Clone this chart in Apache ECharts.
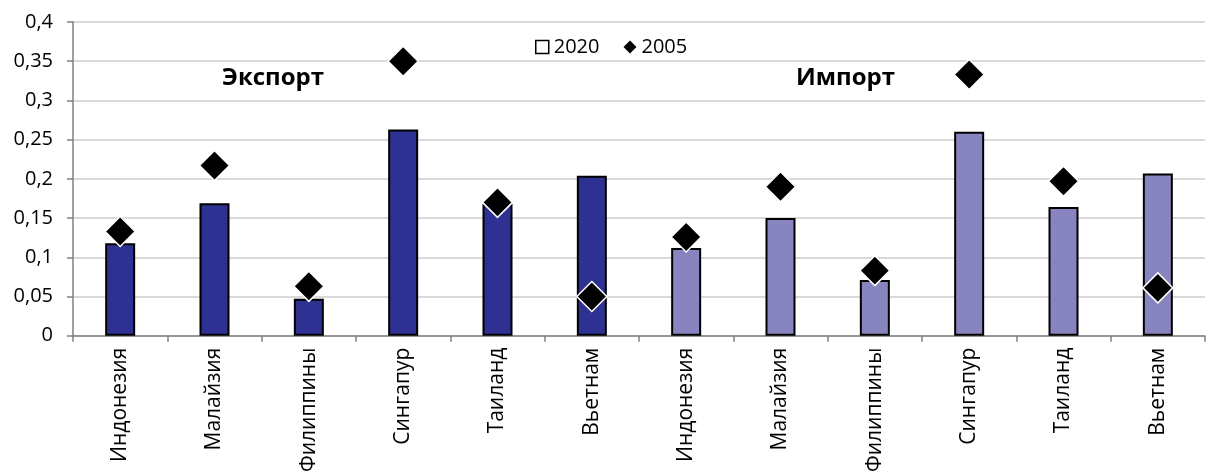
<!DOCTYPE html>
<html><head><meta charset="utf-8">
<script src="https://cdn.jsdelivr.net/npm/echarts@6/dist/echarts.min.js"></script>
<style>html,body{margin:0;padding:0;background:#fff}#c{width:1216px;height:475px}</style>
</head><body><div id="c"></div>
<script>
const categories = ['Индонезия','Малайзия','Филиппины','Сингапур','Таиланд','Вьетнам',
                    'Индонезия','Малайзия','Филиппины','Сингапур','Таиланд','Вьетнам'];
const values2020 = [0.118, 0.169, 0.047, 0.263, 0.168, 0.204, 0.112, 0.150, 0.071, 0.260, 0.164, 0.207];
const values2005 = [0.133, 0.217, 0.063, 0.350, 0.170, 0.050, 0.126, 0.190, 0.083, 0.333, 0.197, 0.061];
const yTicks = { min: 0, max: 0.4, interval: 0.05 };
const groupLabels = ['Экспорт', 'Импорт'];

const FONT = '"Open Sans", "Noto Sans", sans-serif';
const chart = echarts.init(document.getElementById('c'), null, { renderer: 'canvas' });
chart.setOption({
  animation: false,
  grid: { left: 73, right: 11, top: 22, bottom: 138, containLabel: false },
  legend: {
    top: 32, left: 530, itemGap: 24, itemWidth: 13, itemHeight: 13,
    textStyle: { fontFamily: FONT, fontSize: 20, color: '#000' },
    data: [
      { name: '2020', icon: 'rect', itemStyle: { color: '#fff', borderColor: '#000', borderWidth: 1.5 } },
      { name: '2005', icon: 'diamond', itemStyle: { color: '#000', borderColor: '#000', borderWidth: 0 } }
    ]
  },
  graphic: [
    { type: 'text', left: 222, top: 66, style: { text: groupLabels[0], font: 'bold 24px ' + FONT, fill: '#000' } },
    { type: 'text', left: 796, top: 66, style: { text: groupLabels[1], font: 'bold 24px ' + FONT, fill: '#000' } }
  ],
  xAxis: {
    type: 'category', data: categories,
    axisLine: { lineStyle: { color: '#808080', width: 1.5 } },
    axisTick: { show: true, length: 6, alignWithLabel: false, lineStyle: { color: '#808080', width: 1.5 } },
    axisLabel: { rotate: 90, margin: 12, fontFamily: FONT, fontSize: 21, color: '#000', interval: 0 }
  },
  yAxis: {
    type: 'value', min: yTicks.min, max: yTicks.max, interval: yTicks.interval,
    axisLine: { show: true, lineStyle: { color: '#808080', width: 1.5 } },
    axisTick: { show: true, length: 6, lineStyle: { color: '#808080', width: 1.5 } },
    splitLine: { lineStyle: { color: '#d9d9d9', width: 2 } },
    axisLabel: { margin: 20, fontFamily: FONT, fontSize: 20, color: '#000',
      formatter: v => parseFloat(v.toFixed(2)).toString().replace('.', ',') }
  },
  series: [
    {
      name: '2020', type: 'bar', data: values2020, barWidth: 30, z: 2,
      itemStyle: {
        color: p => p.dataIndex < 6 ? '#2e3192' : '#8884c0',
        borderColor: '#000', borderWidth: 2
      }
    },
    {
      name: '2005', type: 'scatter', data: values2005, symbol: 'diamond', symbolSize: 30, z: 5,
      itemStyle: { color: '#000', borderColor: '#fff', borderWidth: 1.5, opacity: 1 }
    }
  ]
});
</script></body></html>
